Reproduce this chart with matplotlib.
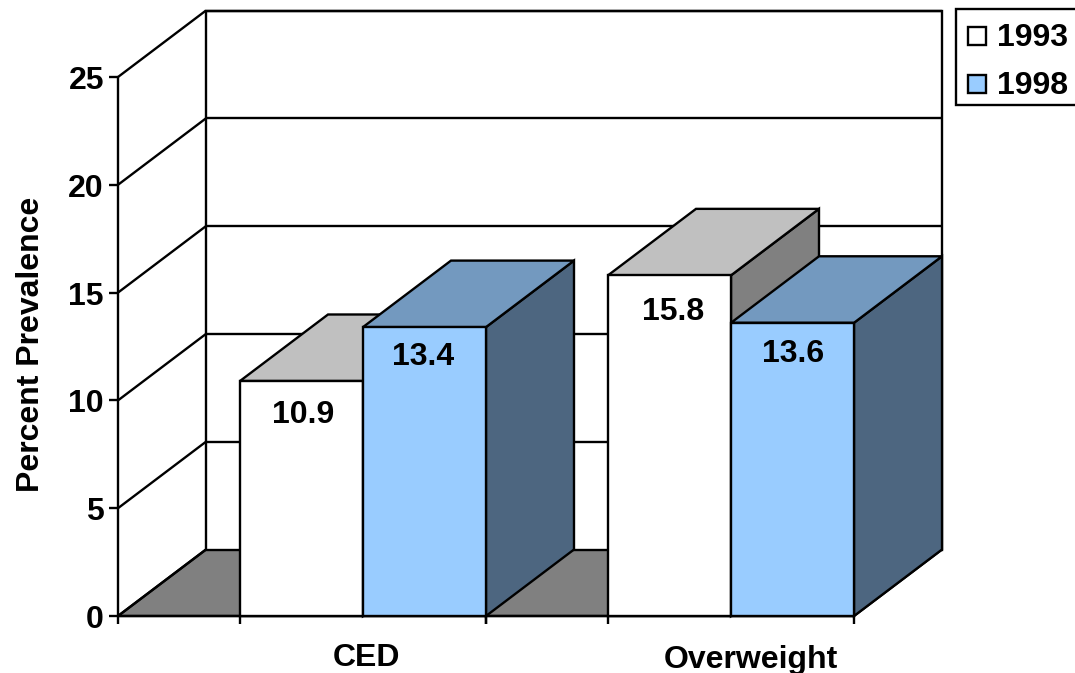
import matplotlib
matplotlib.use("Agg")
import matplotlib.pyplot as plt
from matplotlib.patches import Polygon, Rectangle

categories = ["CED", "Overweight"]
years = ["1993", "1998"]
values_1993 = [10.9, 15.8]
values_1998 = [13.4, 13.6]
y_ticks = [0, 5, 10, 15, 20, 25]

W, H = 1075, 673
plt.rcParams["font.family"] = ["Liberation Sans", "DejaVu Sans"]
fig = plt.figure(figsize=(W / 100, H / 100), dpi=100, facecolor="white")
ax = fig.add_axes([0, 0, 1, 1])

# One category spans 368 px, one percent spans 21.56 px; the origin sits at (118, 616).
CAT_PX, PCT_PX = 368.0, 21.56
X0, Y0 = 118.0, 616.0
ax.set_xlim(-X0 / CAT_PX, (W - X0) / CAT_PX)
ax.set_ylim(-(H - Y0) / PCT_PX, Y0 / PCT_PX)
ax.axis("off")

DX, DY = 88 / CAT_PX, 66.5 / PCT_PX   # depth of the oblique projection
TOP = 25
GAP = 122 / CAT_PX                    # empty stretch in front of each bar pair
BAR_W = (1 - GAP) / 2
LW = 1.7
EDGE = "black"
FS = 23


def px_x(p):
    return p / CAT_PX


def px_y(p):
    return p / PCT_PX


def poly(pts, fc="none", z=1, lw=LW):
    ax.add_patch(Polygon(pts, closed=True, facecolor=fc, edgecolor=EDGE, linewidth=lw,
                         joinstyle="miter", zorder=z, clip_on=False))


def seg(xs, ys, z=1, lw=LW):
    ax.plot(xs, ys, color=EDGE, linewidth=lw, zorder=z, solid_capstyle="butt", clip_on=False)


n = len(categories)

# Floor and back wall
poly([(0, 0), (n, 0), (n + DX, DY), (DX, DY)], fc="#808080", z=1)
poly([(DX, DY), (n + DX, DY), (n + DX, TOP + DY), (DX, TOP + DY)], fc="white", z=1)

# Gridlines running along the side wall and the back wall
for t in y_ticks[1:]:
    seg([0, DX], [t, t + DY], z=2)
    seg([DX, n + DX], [t + DY, t + DY], z=2)
seg([0, 0], [0, TOP], z=2)
seg([0, DX], [0, DY], z=2)

# Value axis ticks and labels
for t in y_ticks:
    seg([-px_x(9), 0], [t, t], z=2)
    ax.text(-px_x(14), t - px_y(4), str(t), ha="right", va="center",
            fontsize=FS, fontweight="bold")

# Category axis line and ticks
seg([0, n], [0, 0], z=2)
for i in range(n):
    for x in (i, i + GAP, i + 1):
        seg([x, x], [0, -px_y(8)], z=2)

# Category names sit a little off-centre under their bars
cat_label_x = [367, 751]
cat_label_baseline = [666, 668]
for name, xp, yp in zip(categories, cat_label_x, cat_label_baseline):
    ax.text(px_x(xp - X0), px_y(Y0 - yp), name, ha="center", va="baseline",
            fontsize=FS, fontweight="bold")


def bar3d(x, w, v, front, top, side, z, drop, shift):
    poly([(x + w, 0), (x + w + DX, DY), (x + w + DX, v + DY), (x + w, v)], fc=side, z=z)
    poly([(x, v), (x + w, v), (x + w + DX, v + DY), (x + DX, v + DY)], fc=top, z=z)
    ax.add_patch(Rectangle((x, 0), w, v, facecolor=front, edgecolor=EDGE, linewidth=LW,
                           joinstyle="miter", zorder=z + 0.1))
    ax.text(x + w / 2 + px_x(shift), v - px_y(drop), f"{v:.1f}", ha="center", va="center",
            fontsize=FS, fontweight="bold", zorder=z + 0.2)


label_drop_1993 = [34, 37]
label_drop_1998 = [30, 31]
label_shift_1993 = [2, 4]
label_shift_1998 = [-1, 1]
for i in range(n):
    x = i + GAP
    bar3d(x, BAR_W, values_1993[i], "white", "#C0C0C0", "#808080", 3 + 2 * i,
          label_drop_1993[i], label_shift_1993[i])
    bar3d(x + BAR_W, BAR_W, values_1998[i], "#99CCFF", "#7399BF", "#4D6680", 4 + 2 * i,
          label_drop_1998[i], label_shift_1998[i])

ax.text(px_x(31 - X0), px_y(Y0 - 344.5), "Percent Prevalence", rotation=90, ha="center",
        va="center", fontsize=FS, fontweight="bold")

# Legend box running off the right edge of the figure
legend_fill = ["white", "#99CCFF"]
ax.add_patch(Rectangle((px_x(956 - X0), px_y(Y0 - 105)), px_x(140), px_y(96), facecolor="white",
                       edgecolor=EDGE, linewidth=LW, zorder=20, clip_on=True))
for year, fill, yc in zip(years, legend_fill, [36, 84]):
    ax.add_patch(Rectangle((px_x(968 - X0), px_y(Y0 - yc - 9)), px_x(18), px_y(18), facecolor=fill,
                           edgecolor=EDGE, linewidth=LW, zorder=21))
    ax.text(px_x(997 - X0), px_y(Y0 - yc - 2), year, ha="left", va="center", fontsize=FS,
            fontweight="bold", zorder=21)

fig.savefig("out.png", dpi=100, facecolor="white")
